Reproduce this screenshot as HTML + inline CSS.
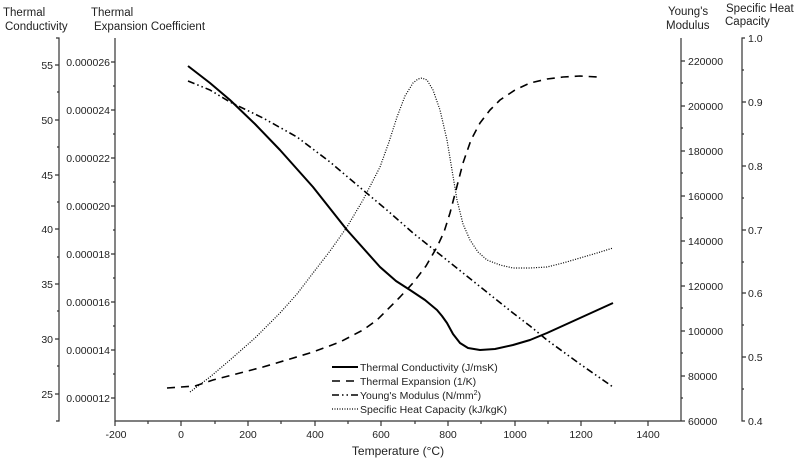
<!DOCTYPE html>
<html><head><meta charset="utf-8"><style>
html,body{margin:0;padding:0;background:#fff;}
svg{display:block;font-family:"Liberation Sans",Arial,sans-serif;}
</style></head><body>
<svg width="800" height="459" viewBox="0 0 800 459" xmlns="http://www.w3.org/2000/svg">
<g fill="#222" font-size="11.5">
<text x="3" y="16">Thermal</text>
<text x="5" y="30">Conductivity</text>
<text x="91" y="16">Thermal</text>
<text x="94" y="30">Expansion Coefficient</text>
<text x="668" y="15">Young's</text>
<text x="666" y="29">Modulus</text>
<text x="726" y="12">Specific Heat</text>
<text x="725" y="25">Capacity</text>
</g>
<g stroke="#333" stroke-width="1.2" fill="none">
<!-- TC axis -->
<path d="M56 38 H59 V421 H56"/>
<path d="M55 65 H59 M55 120 H59 M55 175 H59 M55 229 H59 M55 284 H59 M55 339 H59 M55 394 H59"/>
<path d="M57 92 H59 M57 147 H59 M57 202 H59 M57 257 H59 M57 311 H59 M57 366 H59"/>
<!-- TEC axis -->
<path d="M115 38 V421 H681"/>
<path d="M111 62 H115 M111 110 H115 M111 158 H115 M111 206 H115 M111 254 H115 M111 302 H115 M111 350 H115 M111 398 H115"/>
<path d="M113 86 H115 M113 134 H115 M113 182 H115 M113 230 H115 M113 278 H115 M113 326 H115 M113 374 H115"/>
<!-- x ticks -->
<path d="M115 421 V426 M181 421 V426 M248 421 V426 M315 421 V426 M381 421 V426 M448 421 V426 M515 421 V426 M581 421 V426 M648 421 V426"/>
<path d="M148 421 V424 M215 421 V424 M281 421 V424 M348 421 V424 M415 421 V424 M481 421 V424 M548 421 V424 M615 421 V424"/>
<!-- Young axis -->
<path d="M681 38 V421"/>
<path d="M681 61 H685 M681 106 H685 M681 151 H685 M681 196 H685 M681 241 H685 M681 286 H685 M681 331 H685 M681 376 H685 M681 421 H685"/>
<path d="M681 83 H683 M681 128 H683 M681 173 H683 M681 218 H683 M681 263 H683 M681 308 H683 M681 353 H683 M681 398 H683"/>
<!-- SHC axis -->
<path d="M745 38 H742 V421 H745"/>
<path d="M742 102 H746 M742 166 H746 M742 230 H746 M742 293 H746 M742 357 H746"/>
<path d="M742 70 H744 M742 134 H744 M742 198 H744 M742 262 H744 M742 325 H744 M742 389 H744"/>
</g>
<g fill="#222" font-size="10.5" text-anchor="end">
<text x="53" y="69">55</text><text x="53" y="124">50</text><text x="53" y="179">45</text><text x="53" y="233">40</text><text x="53" y="288">35</text><text x="53" y="343">30</text><text x="53" y="398">25</text>
<text x="110" y="66">0.000026</text><text x="110" y="114">0.000024</text><text x="110" y="162">0.000022</text><text x="110" y="210">0.000020</text><text x="110" y="258">0.000018</text><text x="110" y="306">0.000016</text><text x="110" y="354">0.000014</text><text x="110" y="402">0.000012</text>
</g>
<g fill="#222" font-size="10.5" text-anchor="middle">
<text x="116" y="438">-200</text><text x="181" y="438">0</text><text x="248" y="438">200</text><text x="315" y="438">400</text><text x="381" y="438">600</text><text x="448" y="438">800</text><text x="515" y="438">1000</text><text x="581" y="438">1200</text><text x="648" y="438">1400</text>
<text x="398" y="455" font-size="12">Temperature (°C)</text>
</g>
<g fill="#222" font-size="10.5">
<text x="688" y="65">220000</text><text x="688" y="110">200000</text><text x="688" y="155">180000</text><text x="688" y="200">160000</text><text x="688" y="245">140000</text><text x="688" y="290">120000</text><text x="688" y="335">100000</text><text x="688" y="380">80000</text><text x="688" y="425">60000</text>
<text x="748" y="42">1.0</text><text x="748" y="106">0.9</text><text x="748" y="170">0.8</text><text x="748" y="234">0.7</text><text x="748" y="297">0.6</text><text x="748" y="361">0.5</text><text x="748" y="425">0.4</text>
</g>
<g fill="none" stroke="#000" stroke-linejoin="round">
<polyline stroke-width="2" points="188,66 210,83 230,100 255,124 280,150 313,187 347,230 380,267 396,281 410,290 425,300 437,310 442,316 447,323 453,334 460,343 468,348 480,350 495,349 513,345 530,340 547,333 580,318 613,303"/>
<polyline stroke-width="1.6" stroke-dasharray="8,6" points="167,388 195,386 213,380 240,373 263,367 290,359 313,352 340,342 363,330 377,320 387,310 400,297 413,283 426,266 437,247 444,232 450,213 456,190 463,163 471,140 480,123 490,110 500,100 515,90 530,83 547,79 563,77 580,76 597,77"/>
<polyline stroke-width="1.6" stroke-dasharray="7,3,1.5,3,1.5,3" points="188,81 210,90 230,102 263,118 297,137 330,162 363,190 388,211 413,233 438,253 463,273 488,293 513,313 530,326 547,340 580,364 613,387"/>
<polyline stroke-width="1.2" stroke-dasharray="1,1.5" points="190,392 210,377 230,360 255,338 280,313 297,294 313,273 330,251 347,227 363,200 380,167 389,142 397,117 405,96 413,83 418,79 422,78 427,80 433,90 440,110 447,140 452,170 457,200 463,224 470,240 478,252 487,260 500,265 513,268 530,268 547,267 563,263 580,258 597,253 613,248"/>
<!-- legend -->
<line x1="332" y1="367" x2="358" y2="367" stroke-width="2"/>
<line x1="332" y1="381" x2="358" y2="381" stroke-width="1.6" stroke-dasharray="8,6"/>
<line x1="332" y1="395" x2="358" y2="395" stroke-width="1.6" stroke-dasharray="7,3,1.5,3,1.5,3"/>
<line x1="332" y1="409" x2="358" y2="409" stroke-width="1.2" stroke-dasharray="1,1.5"/>
</g>
<g fill="#222" font-size="10.5">
<text x="360" y="371">Thermal Conductivity (J/msK)</text>
<text x="360" y="385">Thermal Expansion (1/K)</text>
<text x="360" y="399">Young's Modulus (N/mm<tspan font-size="7" dy="-4">2</tspan><tspan dy="4">)</tspan></text>
<text x="360" y="413">Specific Heat Capacity (kJ/kgK)</text>
</g>
</svg>
</body></html>
